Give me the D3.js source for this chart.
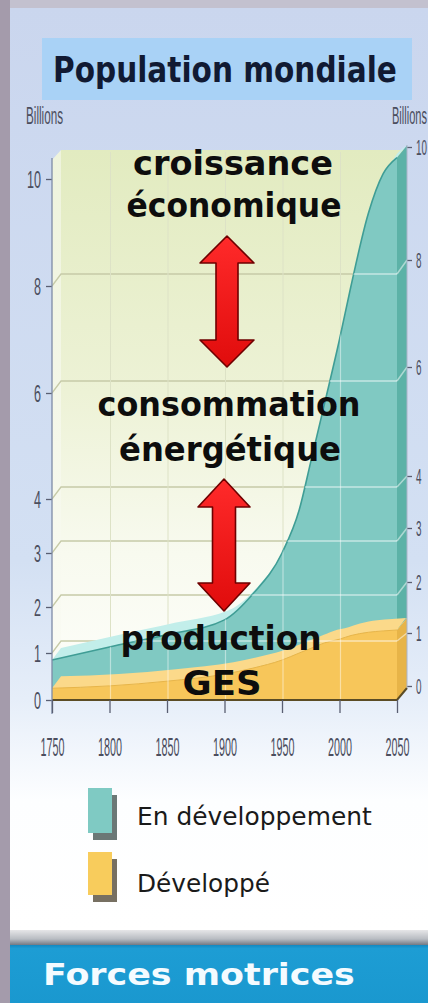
<!DOCTYPE html>
<html>
<head>
<meta charset="utf-8">
<script src="https://cdn.jsdelivr.net/npm/d3@7"></script>
<style>
  html, body { margin: 0; padding: 0; background: #a79fb0; }
  svg { display: block; }
</style>
</head>
<body>
<svg id="chart" width="428" height="1003"></svg>
<script>
// ---- data (billions of people) ----
const years      = [1750, 1800, 1850, 1900, 1925, 1950, 1965, 1975, 1987, 2000, 2010, 2025, 2038, 2050];
const developed  = [0.25, 0.30, 0.40, 0.55, 0.68, 0.85, 1.00, 1.10, 1.22, 1.30, 1.38, 1.45, 1.48, 1.50];
const developing = [0.60, 0.83, 1.00, 1.17, 1.57, 2.15, 2.80, 3.60, 4.58, 5.70, 6.62, 7.90, 8.62, 8.90];
const yTicks = [0, 1, 2, 3, 4, 6, 8, 10];
const xTicks = [1750, 1800, 1850, 1900, 1950, 2000, 2050];
const seriesNames = ["En développement", "Développé"];

const svg = d3.select("#chart");
const defs = svg.append("defs");

function vGrad(id, stops) {
  const g = defs.append("linearGradient").attr("id", id)
    .attr("x1", 0).attr("y1", 0).attr("x2", 0).attr("y2", 1);
  stops.forEach(([o, c]) => g.append("stop").attr("offset", o).attr("stop-color", c));
}
vGrad("panelGrad", [[0, "#cad6ee"], [0.6, "#d3e0f3"], [0.75, "#e6eef9"], [0.86, "#fdfeff"], [1, "#ffffff"]]);
vGrad("wallGrad", [[0, "#e2ebc0"], [0.45, "#edf2d6"], [0.75, "#f8faef"], [1, "#fdfefa"]]);
vGrad("sideGrad", [[0, "#eef3dc"], [1, "#fbfcf6"]]);
vGrad("barGrad", [[0, "#e6e6e8"], [0.6, "#b8bcc2"], [1, "#737983"]]);
vGrad("bannerGrad", [[0, "#1488c0"], [0.06, "#1d9dd4"], [1, "#1a98cf"]]);
vGrad("arrowGrad", [[0, "#ff2a2a"], [1, "#e00c0c"]]);

// squeeze a text horizontally so that it spans exactly `w` pixels
function fitWidth(sel, w) {
  sel.each(function (d) {
    const t = d3.select(this);
    const nat = this.getComputedTextLength();
    const target = typeof w === "function" ? w(d) : w;
    const x0 = +t.attr("x") || 0, y0 = +t.attr("y") || 0;
    t.attr("x", 0).attr("y", 0)
      .attr("transform", `translate(${x0},${y0}) scale(${target / nat},1)`);
  });
}

// ---- page frame ----
svg.append("rect").attr("width", 428).attr("height", 1003).attr("fill", "#a49bab");
svg.append("rect").attr("x", 10).attr("y", 0).attr("width", 418).attr("height", 8).attr("fill", "#c3c1cf");
svg.append("rect").attr("x", 10).attr("y", 8).attr("width", 418).attr("height", 922).attr("fill", "url(#panelGrad)");
svg.append("rect").attr("x", 10).attr("y", 930).attr("width", 418).attr("height", 15).attr("fill", "url(#barGrad)");
svg.append("rect").attr("x", 10).attr("y", 945).attr("width", 418).attr("height", 58).attr("fill", "url(#bannerGrad)");

// title box
svg.append("rect").attr("x", 42).attr("y", 38).attr("width", 370).attr("height", 62).attr("fill", "#a9d2f6");
svg.append("text").attr("x", 53).attr("y", 82)
  .attr("font-family", "DejaVu Sans").attr("font-weight", "bold").attr("font-size", 35)
  .attr("fill", "#111a33")
  .text("Population mondiale")
  .call(fitWidth, 344);

// ---- scales ----
const x = d3.scaleLinear().domain([1750, 2050]).range([52, 397]);
const y = d3.scaleLinear().domain(yTicks).range([700, 653, 607, 553, 499, 393, 286, 179]);
const yBack = d3.scaleLinear().domain(yTicks).range([686, 633, 582, 528, 476, 367, 260, 147]);
const DX = 9, DY = -12;   // depth offset of the 3D slab

const rows = years.map((yr, i) => ({ year: yr, dev: developed[i], ing: developing[i] }));
const layers = d3.stack().keys(["dev", "ing"])(rows);
const devLayer = layers[0], ingLayer = layers[1];
const last = rows[rows.length - 1];
const xr = x(2050);

// ---- walls ----
const g = svg.append("g");
g.append("rect").attr("x", x(1750) + DX).attr("y", 150)
  .attr("width", (xr + DX + 1) - (x(1750) + DX))
  .attr("height", (y(0) + DY) - 150).attr("fill", "url(#wallGrad)");
g.append("path")
  .attr("d", `M${x(1750)},160 L${x(1750) + DX},150 L${x(1750) + DX},${y(0) + DY} L${x(1750)},${y(0)} Z`)
  .attr("fill", "url(#sideGrad)");

// gridline path: left tick -> back wall -> right axis
function gridPath(v) {
  return `M${x(1750)},${y(v)} L${x(1750) + DX},${y(v) + DY} L${xr},${y(v) + DY} L${xr + DX + 1},${yBack(v)}`;
}
const gridVals = [1, 2, 3, 4, 6, 8];
g.selectAll(".gridUnder").data(gridVals).join("path")
  .attr("d", gridPath).attr("fill", "none").attr("stroke", "#c6caa8").attr("stroke-width", 1.3);
g.selectAll(".vgridUnder").data(xTicks.slice(1, -1)).join("line")
  .attr("x1", d => x(d) + 1).attr("x2", d => x(d) + 1)
  .attr("y1", 152).attr("y2", y(0) + DY)
  .attr("stroke", "#dde2c6").attr("stroke-width", 1);

// ---- areas ----
const curve = d3.curveMonotoneX;
const faceFront = d3.area().curve(curve)
  .x(d => x(d.data.year)).y0(d => y(d[0])).y1(d => y(d[1]));
const faceTop = d3.area().curve(curve)
  .x0(d => x(d.data.year)).x1(d => x(d.data.year) + DX)
  .y0(d => y(d[1])).y1(d => y(d[1]) + DY);
const edge = d3.line().curve(curve).x(d => x(d.data.year)).y(d => y(d[1]));

// developing (teal)
g.append("path").attr("d", faceTop(ingLayer)).attr("fill", "#c2eeea");
g.append("path").attr("d", faceFront(ingLayer)).attr("fill", "#80c9c2");
g.append("path")
  .attr("d", `M${xr},${y(last.dev + last.ing)} L${xr + DX + 1},${y(last.dev + last.ing) + DY} L${xr + DX + 1},${y(last.dev) + DY} L${xr},${y(last.dev)} Z`)
  .attr("fill", "#5cb2a7");
g.append("path").attr("d", edge(ingLayer)).attr("fill", "none")
  .attr("stroke", "#3f9d95").attr("stroke-width", 1.6);

// developed (yellow)
g.append("path").attr("d", faceTop(devLayer)).attr("fill", "#fbd98a");
g.append("path").attr("d", faceFront(devLayer)).attr("fill", "#f7c65a");
g.append("path")
  .attr("d", `M${xr},${y(last.dev)} L${xr + DX + 1},${y(last.dev) + DY} L${xr + DX + 1},${y(0) + DY} L${xr},${y(0)} Z`)
  .attr("fill", "#e7b448");
g.append("path").attr("d", edge(devLayer)).attr("fill", "none")
  .attr("stroke", "#e9b548").attr("stroke-width", 1);

// gridlines showing through the series
const clip = defs.append("clipPath").attr("id", "seriesClip");
clip.append("path").attr("d", faceFront(ingLayer));
clip.append("path").attr("d", faceFront(devLayer));
const over = g.append("g").attr("clip-path", "url(#seriesClip)");
over.selectAll("path").data(gridVals).join("path")
  .attr("d", gridPath).attr("fill", "none").attr("stroke", "#ffffff")
  .attr("stroke-opacity", 0.55).attr("stroke-width", 1.6);
over.selectAll("line").data(xTicks.slice(1, -1)).join("line")
  .attr("x1", d => x(d) + 1).attr("x2", d => x(d) + 1)
  .attr("y1", 152).attr("y2", y(0))
  .attr("stroke", "#ffffff").attr("stroke-opacity", 0.45).attr("stroke-width", 1.2);
// right-wall gridline segments
g.selectAll(".gridSide").data(gridVals.filter(v => v < last.dev + last.ing)).join("line")
  .attr("x1", xr).attr("y1", d => y(d) + DY).attr("x2", xr + DX + 1).attr("y2", d => yBack(d))
  .attr("stroke", "#ffffff").attr("stroke-opacity", 0.5).attr("stroke-width", 1.5);

// bottom front edge
g.append("path")
  .attr("d", `M${x(1750)},${y(0)} L${xr},${y(0)} L${xr + DX + 1},${y(0) + DY}`)
  .attr("fill", "none").attr("stroke", "#5b4c25").attr("stroke-width", 2);

// ---- axes ----
const axisFont = "Liberation Sans";
const axisColor = "#4b4e5e";

// tall, narrow tick labels: scale each glyph run horizontally about its anchor
function condense(sel, size, perChar) {
  sel.selectAll("text")
    .attr("font-family", axisFont).attr("font-size", size).attr("fill", axisColor)
    .each(function () {
      const t = d3.select(this);
      const nat = this.getComputedTextLength();
      const s = (this.textContent.length * perChar) / nat;
      const x0 = +t.attr("x") || 0;
      t.attr("x", x0 / s).attr("transform", `scale(${s},1)`);
    });
}

const axL = svg.append("g").attr("transform", `translate(${x(1750)},0)`)
  .call(d3.axisLeft(y).tickValues(yTicks).tickSize(6).tickPadding(5).tickFormat(d3.format("d")));
axL.select(".domain").remove();
axL.selectAll(".tick line").attr("stroke", "#5a5f72").attr("stroke-width", 1.3);
condense(axL, 24, 7);
axL.selectAll("text").attr("dy", "0.36em");
svg.append("line").attr("x1", x(1750)).attr("x2", x(1750)).attr("y1", 158).attr("y2", y(0) + 14)
  .attr("stroke", "#7d8aa6").attr("stroke-width", 1.3);

const axR = svg.append("g").attr("transform", `translate(${xr + DX + 1},0)`)
  .call(d3.axisRight(yBack).tickValues(yTicks).tickSize(5).tickPadding(4).tickFormat(d3.format("d")));
axR.select(".domain").remove();
axR.selectAll(".tick line").attr("stroke", "#5a5f72").attr("stroke-width", 1.3);
condense(axR, 22, 5.5);
axR.selectAll("text").attr("dy", "0.36em");
svg.append("line").attr("x1", xr + DX + 1).attr("x2", xr + DX + 1).attr("y1", 145).attr("y2", y(0) + DY)
  .attr("stroke", "#a9b4c8").attr("stroke-width", 1);

const axB = svg.append("g").attr("transform", `translate(0,${y(0)})`)
  .call(d3.axisBottom(x).tickValues(xTicks).tickSize(13).tickFormat(d3.format("d")));
axB.select(".domain").remove();
axB.selectAll(".tick line").attr("stroke", "#5a5f72").attr("stroke-width", 1.3);
condense(axB, 25, 6);
axB.selectAll("text").attr("y", 56).attr("dy", null);

// unit labels
[[26, 37], [392, 35]].forEach(([lx, w]) => {
  svg.append("text").attr("x", lx).attr("y", 124)
    .attr("font-family", axisFont).attr("font-size", 24).attr("fill", axisColor)
    .text("Billions")
    .call(fitWidth, w);
});

// ---- annotations ----
function arrowPath(cx, top, bottom, headHalf, headLen, shaftHalf) {
  return `M${cx},${top} L${cx + headHalf},${top + headLen} L${cx + shaftHalf},${top + headLen}` +
    ` L${cx + shaftHalf},${bottom - headLen} L${cx + headHalf},${bottom - headLen} L${cx},${bottom}` +
    ` L${cx - headHalf},${bottom - headLen} L${cx - shaftHalf},${bottom - headLen}` +
    ` L${cx - shaftHalf},${top + headLen} L${cx - headHalf},${top + headLen} Z`;
}
const arrows = [
  { cx: 227, top: 236, bottom: 367, headHalf: 27, headLen: 27, shaftHalf: 11 },
  { cx: 224, top: 479, bottom: 611, headHalf: 26, headLen: 28, shaftHalf: 11.5 }
];
svg.selectAll(".arrow").data(arrows).join("path")
  .attr("d", d => arrowPath(d.cx, d.top, d.bottom, d.headHalf, d.headLen, d.shaftHalf))
  .attr("fill", "url(#arrowGrad)").attr("stroke", "#6e0000").attr("stroke-width", 1.6)
  .attr("stroke-linejoin", "round");

const notes = [
  { t: "croissance",   cx: 233, by: 175, w: 200 },
  { t: "économique",   cx: 234, by: 217, w: 215 },
  { t: "consommation", cx: 229, by: 416, w: 263 },
  { t: "énergétique",  cx: 230, by: 461, w: 222 },
  { t: "production",   cx: 221, by: 650, w: 201 },
  { t: "GES",          cx: 222, by: 695, w: 79 }
];
svg.selectAll(".note").data(notes).join("text")
  .attr("x", d => d.cx).attr("y", d => d.by).attr("text-anchor", "middle")
  .attr("font-family", "DejaVu Sans").attr("font-weight", "bold").attr("font-size", 34)
  .attr("fill", "#0d0d0d")
  .text(d => d.t)
  .call(fitWidth, d => d.w);

// ---- legend ----
const legend = [
  { name: seriesNames[0], fill: "#7fcac3", shade: "#6b7876", y: 788, h: 45, tw: 235, ty: 825 },
  { name: seriesNames[1], fill: "#f8cc5c", shade: "#777062", y: 852, h: 43, tw: 133, ty: 892 }
];
const lg = svg.selectAll(".legend").data(legend).join("g");
lg.append("rect").attr("x", 93).attr("y", d => d.y + 7).attr("width", 24).attr("height", d => d.h).attr("fill", d => d.shade);
lg.append("rect").attr("x", 88).attr("y", d => d.y).attr("width", 24).attr("height", d => d.h).attr("fill", d => d.fill);
lg.append("text").attr("x", 137).attr("y", d => d.ty)
  .attr("font-family", "DejaVu Sans").attr("font-size", 25).attr("fill", "#1a1a1a")
  .text(d => d.name)
  .call(fitWidth, d => d.tw);

// ---- footer ----
svg.append("text").attr("x", 43).attr("y", 985)
  .attr("font-family", "DejaVu Sans").attr("font-weight", "bold").attr("font-size", 30)
  .attr("fill", "#f4fbff")
  .text("Forces motrices")
  .call(fitWidth, 312);
</script>
</body>
</html>
